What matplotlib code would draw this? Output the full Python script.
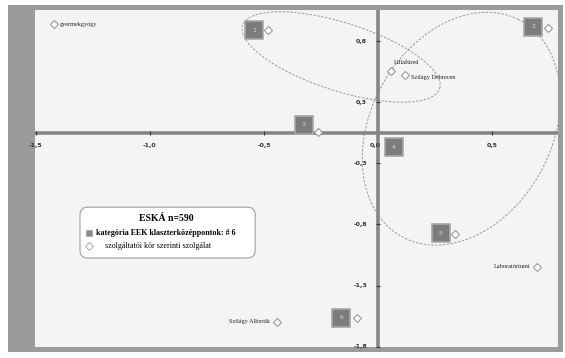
import numpy as np
import matplotlib.pyplot as plt
from matplotlib.patches import Rectangle, FancyBboxPatch

# cluster centres (grey squares)
centre_x = [-0.544, 0.680, -0.325, 0.070, 0.276, -0.162]
centre_y = [0.844, 0.869, 0.066, -0.115, -0.820, -1.516]
centre_ids = ["1", "2", "3", "4", "5", "6"]

# service categories (open diamonds)
cat_x = [-1.421, 0.057, 0.118, 0.697, -0.443, -0.482, 0.746, -0.263, 0.338, -0.092]
cat_y = [0.893, 0.508, 0.475, -1.098, -1.549, 0.844, 0.861, 0.008, -0.828, -1.516]
cat_labels = ["gyermekgyógy", "Lillafüred", "Szilágy Debrecen", "Laboratóriumi",
              "Szilágy Albertik", "", "", "", "", ""]

# group ellipses: centre and two semi-axis vectors
ell_cx = [-0.162, 0.365]
ell_cy = [0.623, 0.035]
ell_u = [(0.432, -0.258), (0.250, 0.895)]
ell_v = [(0.045, 0.266), (-0.355, 0.330)]

x_ticks = [-1.5, -1.0, -0.5, 0.5]
x_tick_labels = ["-1,5", "-1,0", "-0,5", "0,5"]
y_ticks = [0.75, 0.25, -0.25, -0.75, -1.25, -1.75]
y_tick_labels = ["0,8", "0,3", "-0,3", "-0,8", "-1,3", "-1,8"]

legend_title = "ESKÁ n=590"
legend_square = "kategória EEK klaszterközéppontok: # 6"
legend_diamond = "szolgáltatói kör szerinti szolgálat"

# where each category label sits relative to its marker (points)
label_offset = {
    "gyermekgyógy": (4, 0, "left"),
    "Lillafüred": (2, 6, "left"),
    "Szilágy Debrecen": (4, -2, "left"),
    "Laboratóriumi": (-5, 0, "right"),
    "Szilágy Albertik": (-5, 0, "right"),
}

W, H = 565, 358
fig = plt.figure(figsize=(W / 100, H / 100), dpi=100)
fig.patch.set_facecolor("white")

# grey frame around the plot area
fig.add_artist(Rectangle((8 / W, 1 - 352 / H), 555 / W, 347 / H,
                         transform=fig.transFigure, facecolor="#9b9b9b",
                         edgecolor="none", zorder=0))

ax = fig.add_axes([35 / W, 1 - 347 / H, 523 / W, 337 / H])
ax.set_facecolor("#f4f4f4")
ax.set_xlim(-1.504, 0.789)
ax.set_ylim(-1.754, 1.008)
for s in ax.spines.values():
    s.set_visible(False)
ax.set_xticks([])
ax.set_yticks([])

# axes through the origin
ax.axhline(0, color="#858585", lw=2.6, zorder=2)
ax.axvline(0, color="#858585", lw=2.6, zorder=2)

ax.plot(x_ticks, [0] * len(x_ticks), ls="none", marker="|", ms=3,
        mew=0.8, color="#333333", zorder=3)
ax.plot([0] * len(y_ticks), y_ticks, ls="none", marker="_", ms=3,
        mew=0.8, color="#333333", zorder=3)
for v, lab in zip(x_ticks, x_tick_labels):
    ax.annotate(lab, (v, 0), xytext=(0, -9), textcoords="offset points",
                ha="center", va="center", fontsize=4.5, fontweight="bold",
                color="#333333", annotation_clip=False)
for v, lab in zip(y_ticks, y_tick_labels):
    ax.annotate(lab, (0, v), xytext=(-8, 0), textcoords="offset points",
                ha="right", va="center", fontsize=4.5, fontweight="bold",
                color="#333333", annotation_clip=False)
ax.annotate("0,0", (0, 0), xytext=(-2, -9), textcoords="offset points",
            ha="center", va="center", fontsize=4.5, fontweight="bold",
            color="#333333")

# group ellipses
t = np.linspace(0, 2 * np.pi, 300)
for cx, cy, u, v in zip(ell_cx, ell_cy, ell_u, ell_v):
    ex = cx + u[0] * np.cos(t) + v[0] * np.sin(t)
    ey = cy + u[1] * np.cos(t) + v[1] * np.sin(t)
    ax.plot(ex, ey, color="#9a9a9a", lw=0.7, ls=(0, (2.5, 1.5)), zorder=1)

# categories
ax.plot(cat_x, cat_y, ls="none", marker="D", ms=4.5, mfc="white",
        mec="#9a9a9a", mew=0.8, zorder=4)
for x, y, lab in zip(cat_x, cat_y, cat_labels):
    if not lab:
        continue
    dx, dy, ha = label_offset[lab]
    ax.annotate(lab, (x, y), xytext=(dx, dy), textcoords="offset points",
                ha=ha, va="center", fontsize=4.5, family="Liberation Serif",
                color="#222222")

# cluster centres
ax.plot(centre_x, centre_y, ls="none", marker="s", ms=13, mfc="#7c7c7c",
        mec="#a8a8a8", mew=1.2, zorder=5)
for x, y, lab in zip(centre_x, centre_y, centre_ids):
    ax.text(x, y, lab, ha="center", va="center", fontsize=4.5,
            color="#d8d8d8", zorder=6)

# legend box
box = FancyBboxPatch((0.086, 0.264), 0.335, 0.151,
                     boxstyle="round,pad=0,rounding_size=0.015",
                     mutation_aspect=523 / 337, transform=ax.transAxes,
                     facecolor="white", edgecolor="#a0a0a0", lw=0.8, zorder=7)
ax.add_patch(box)
ax.text(0.252, 0.380, legend_title, transform=ax.transAxes, ha="center",
        va="center", fontsize=7, fontweight="bold",
        family="Liberation Serif", zorder=8)
ax.plot([0.103], [0.338], transform=ax.transAxes, marker="s", ms=5,
        mfc="#8a8a8a", mec="#a8a8a8", mew=0.6, zorder=8)
ax.text(0.117, 0.338, legend_square, transform=ax.transAxes, ha="left",
        va="center", fontsize=5.8, fontweight="bold",
        family="Liberation Serif", zorder=8)
ax.plot([0.103], [0.300], transform=ax.transAxes, marker="D", ms=4,
        mfc="white", mec="#9a9a9a", mew=0.6, zorder=8)
ax.text(0.134, 0.300, legend_diamond, transform=ax.transAxes, ha="left",
        va="center", fontsize=5.8, family="Liberation Serif", zorder=8)

fig.savefig("out.png", dpi=100)
